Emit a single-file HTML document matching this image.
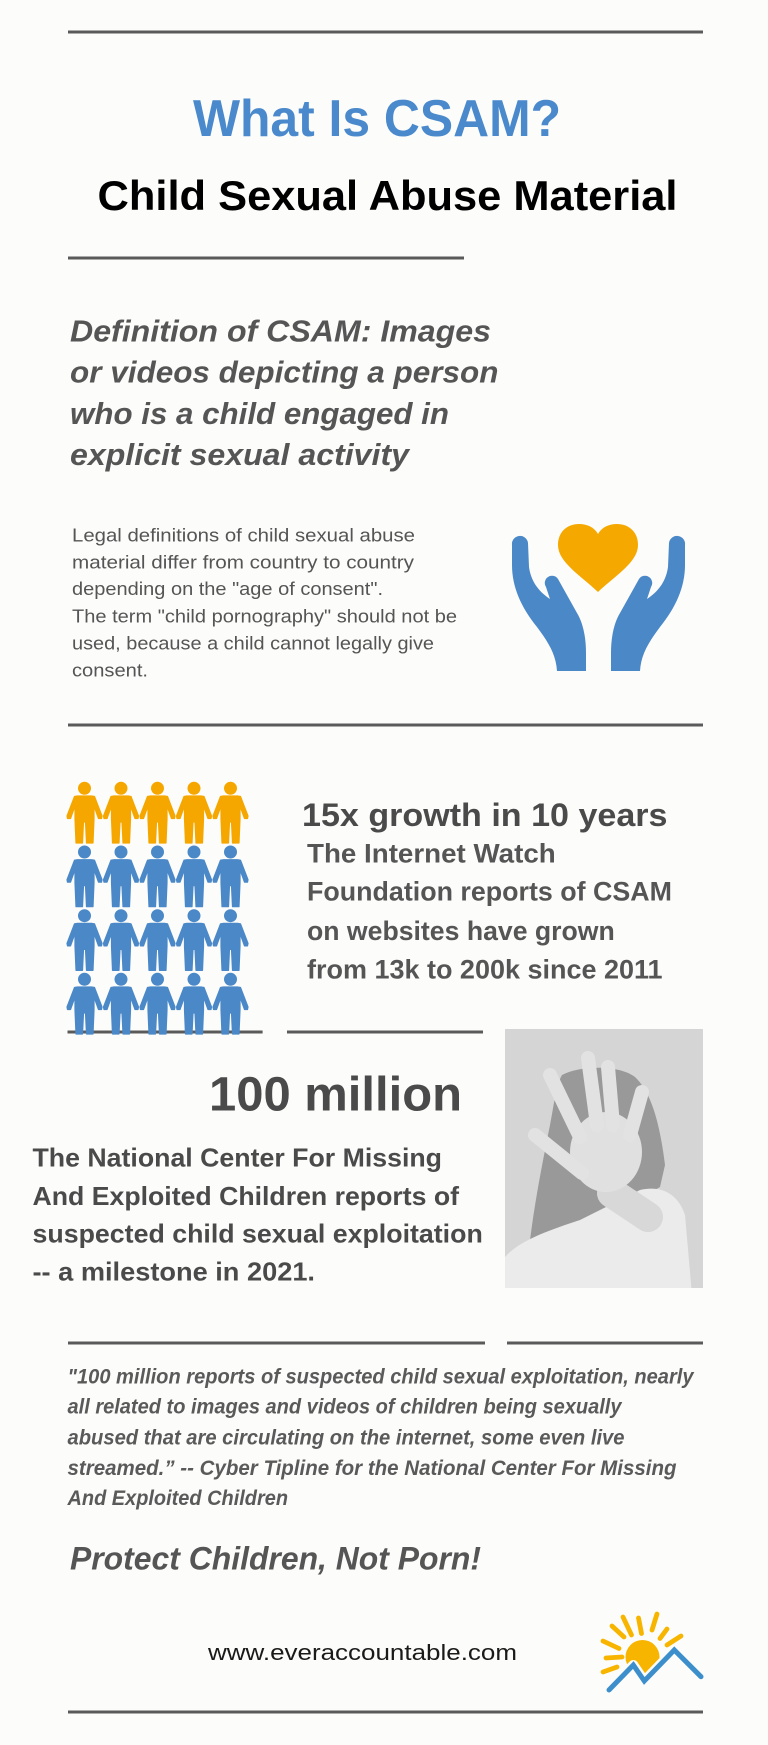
<!DOCTYPE html>
<html>
<head>
<meta charset="utf-8">
<style>
  html,body{margin:0;padding:0;background:#fcfcfa;}
  svg{display:block;}
  text{font-family:"Liberation Sans", Arial, sans-serif;}
</style>
</head>
<body>
<svg width="768" height="1745" viewBox="0 0 768 1745" xmlns="http://www.w3.org/2000/svg">
  <rect x="0" y="0" width="768" height="1745" fill="#fcfcfa"/>

  <!-- divider lines -->
  <g stroke="#5a5a5a" stroke-width="3">
    <line x1="68" y1="32" x2="703" y2="32"/>
    <line x1="68" y1="258" x2="464" y2="258"/>
    <line x1="68" y1="725" x2="703" y2="725"/>
    <line x1="67.5" y1="1032" x2="262.6" y2="1032"/>
    <line x1="287" y1="1032" x2="483" y2="1032"/>
    <line x1="68" y1="1343" x2="485" y2="1343"/>
    <line x1="507" y1="1343" x2="703" y2="1343"/>
    <line x1="68" y1="1712" x2="703" y2="1712"/>
  </g>

  <!-- Titles -->
  <text x="193" y="136" font-size="52" font-weight="bold" fill="#4a89cc" textLength="368" lengthAdjust="spacingAndGlyphs">What Is CSAM?</text>
  <text x="97.5" y="210" font-size="42" font-weight="bold" fill="#000" textLength="580" lengthAdjust="spacingAndGlyphs">Child Sexual Abuse Material</text>

  <!-- Definition heading -->
  <g font-size="30.5" font-weight="bold" font-style="italic" fill="#555">
    <text x="70" y="341.7" textLength="421" lengthAdjust="spacingAndGlyphs">Definition of CSAM: Images</text>
    <text x="70" y="382.3" textLength="428.5" lengthAdjust="spacingAndGlyphs">or videos depicting a person</text>
    <text x="70" y="424" textLength="379" lengthAdjust="spacingAndGlyphs">who is a child engaged in</text>
    <text x="70" y="465" textLength="339" lengthAdjust="spacingAndGlyphs">explicit sexual activity</text>
  </g>

  <!-- Body -->
  <g font-size="18.5" fill="#555">
    <text x="72" y="541.7" textLength="343" lengthAdjust="spacingAndGlyphs">Legal definitions of child sexual  abuse</text>
    <text x="72" y="568.3" textLength="342" lengthAdjust="spacingAndGlyphs">material differ from country to country</text>
    <text x="72" y="595" textLength="311" lengthAdjust="spacingAndGlyphs">depending on the "age of consent".</text>
    <text x="72" y="622.7" textLength="385" lengthAdjust="spacingAndGlyphs">The term "child pornography" should not be</text>
    <text x="72" y="649.3" textLength="362" lengthAdjust="spacingAndGlyphs">used, because a child cannot legally give</text>
    <text x="72" y="676.7" textLength="76" lengthAdjust="spacingAndGlyphs">consent.</text>
  </g>

  <!-- Hands + heart icon -->
  <g transform="translate(505,515)">
    <g fill="#4a88c8">
      <path d="M 7,30 A 8,8 0 0 1 23,28 L 24,52 C 26,66 33,76 45,84 L 41,72 A 6.5,6.5 0 0 1 53,64 L 72,98 C 78,108 81,122 81,138 L 81,156 L 52,156 C 51,140 44,128 32,112 C 16,92 7,72 7,50 Z"/>
      <path transform="translate(187,0) scale(-1,1)" d="M 7,30 A 8,8 0 0 1 23,28 L 24,52 C 26,66 33,76 45,84 L 41,72 A 6.5,6.5 0 0 1 53,64 L 72,98 C 78,108 81,122 81,138 L 81,156 L 52,156 C 51,140 44,128 32,112 C 16,92 7,72 7,50 Z"/>
    </g>
    <path fill="#f5a800" d="M 93,19 C 89,12 82,9 74,9 C 62,9 53,17 53,30 C 53,47 75,60 93,77 C 111,60 133,47 133,30 C 133,17 124,9 112,9 C 104,9 97,12 93,19 Z"/>
  </g>

  <!-- People grid -->
  <defs>
    <g id="person">
      <circle cx="0" cy="6.3" r="6"/>
      <polygon stroke-linejoin="round" stroke-width="1.2" points="-7,14 7,14 10,14.5 17.5,34 17,36.5 14,36.5 9.5,24 9.5,37 8.5,61 2,61 1,40 -1,40 -2,61 -8.5,61 -9.5,37 -9.5,24 -14,36.5 -17,36.5 -17.5,34 -10,14.5"/>
    </g>
  </defs>
  <g fill="#f5a700" stroke="#f5a700">
    <use href="#person" transform="translate(84.5,782)"/>
    <use href="#person" transform="translate(121,782)"/>
    <use href="#person" transform="translate(157.5,782)"/>
    <use href="#person" transform="translate(194,782)"/>
    <use href="#person" transform="translate(230.5,782)"/>
  </g>
  <g fill="#4a88c8" stroke="#4a88c8">
    <use href="#person" transform="translate(84.5,845.7)"/>
    <use href="#person" transform="translate(121,845.7)"/>
    <use href="#person" transform="translate(157.5,845.7)"/>
    <use href="#person" transform="translate(194,845.7)"/>
    <use href="#person" transform="translate(230.5,845.7)"/>
    <use href="#person" transform="translate(84.5,909.4)"/>
    <use href="#person" transform="translate(121,909.4)"/>
    <use href="#person" transform="translate(157.5,909.4)"/>
    <use href="#person" transform="translate(194,909.4)"/>
    <use href="#person" transform="translate(230.5,909.4)"/>
    <use href="#person" transform="translate(84.5,973)"/>
    <use href="#person" transform="translate(121,973)"/>
    <use href="#person" transform="translate(157.5,973)"/>
    <use href="#person" transform="translate(194,973)"/>
    <use href="#person" transform="translate(230.5,973)"/>
  </g>

  <!-- 15x growth -->
  <text x="302" y="826" font-size="32" font-weight="bold" fill="#4a4a4a" textLength="365.5" lengthAdjust="spacingAndGlyphs">15x growth in 10 years</text>
  <g font-size="27" font-weight="bold" fill="#555">
    <text x="307" y="862.7" textLength="248.7" lengthAdjust="spacingAndGlyphs">The Internet Watch</text>
    <text x="307" y="900.7" textLength="365" lengthAdjust="spacingAndGlyphs">Foundation reports of CSAM</text>
    <text x="307" y="940" textLength="307.8" lengthAdjust="spacingAndGlyphs">on websites have grown</text>
    <text x="307" y="978.3" textLength="355.5" lengthAdjust="spacingAndGlyphs">from 13k to 200k since 2011</text>
  </g>

  <!-- Photo -->
  <clipPath id="photoclip"><rect x="505" y="1029" width="198" height="259"/></clipPath>
  <g clip-path="url(#photoclip)">
    <g transform="translate(500,1025)">
      <rect x="0" y="0" width="210" height="270" fill="#d5d5d5"/>
      <path fill="#999" d="M 62,50 C 80,40 120,40 135,52 C 152,68 160,100 165,140 L 160,162 L 70,215 L 28,235 C 32,190 42,140 50,100 C 54,80 56,60 62,50 Z"/>
      <path fill="#ebebeb" d="M 5,232 C 20,215 50,205 80,195 L 140,165 C 160,160 178,168 185,190 L 192,270 L 5,270 Z"/>
      <line x1="112" y1="168" x2="148" y2="192" stroke="#d8d8d8" stroke-width="30" stroke-linecap="round"/>
      <ellipse cx="106" cy="127" rx="36" ry="40" fill="#e0e0e0"/>
      <g stroke="#e2e2e2" stroke-width="14" stroke-linecap="round">
        <line x1="80" y1="112" x2="50" y2="50"/>
        <line x1="97" y1="100" x2="88" y2="33"/>
        <line x1="113" y1="100" x2="108" y2="42"/>
        <line x1="130" y1="110" x2="142" y2="67"/>
        <line x1="82" y1="148" x2="35" y2="110"/>
      </g>
    </g>
  </g>

  <!-- 100 million -->
  <text x="209" y="1110.7" font-size="48" font-weight="bold" fill="#4a4a4a" textLength="253" lengthAdjust="spacingAndGlyphs">100 million</text>
  <g font-size="26" font-weight="bold" fill="#4a4a4a">
    <text x="32.5" y="1166.7" textLength="409.5" lengthAdjust="spacingAndGlyphs">The National Center For Missing</text>
    <text x="32.5" y="1205" textLength="426.5" lengthAdjust="spacingAndGlyphs">And Exploited Children reports of</text>
    <text x="32.5" y="1242.3" textLength="450.3" lengthAdjust="spacingAndGlyphs">suspected child sexual exploitation</text>
    <text x="32.5" y="1280.7" textLength="282.5" lengthAdjust="spacingAndGlyphs">-- a milestone in 2021.</text>
  </g>

  <!-- Quote -->
  <g font-size="21" font-weight="bold" font-style="italic" fill="#5a5a5a">
    <text x="67.5" y="1383.3" textLength="626" lengthAdjust="spacingAndGlyphs">"100 million reports of suspected child sexual exploitation, nearly</text>
    <text x="67.5" y="1413.3" textLength="554" lengthAdjust="spacingAndGlyphs">all related to images and videos of children being sexually</text>
    <text x="67.5" y="1444.3" textLength="557" lengthAdjust="spacingAndGlyphs">abused that are circulating on the internet, some even live</text>
    <text x="67.5" y="1475" textLength="609" lengthAdjust="spacingAndGlyphs">streamed.”  -- Cyber Tipline for the National Center For Missing</text>
    <text x="67.5" y="1505" textLength="220.5" lengthAdjust="spacingAndGlyphs">And Exploited Children</text>
  </g>

  <text x="70" y="1569.3" font-size="32" font-weight="bold" font-style="italic" fill="#555" textLength="411" lengthAdjust="spacingAndGlyphs">Protect Children, Not Porn!</text>

  <text x="208" y="1660" font-size="22" fill="#1a1a1a" textLength="309" lengthAdjust="spacingAndGlyphs">www.everaccountable.com</text>

  <!-- Sun logo -->
  <g transform="translate(595,1605)">
    <g stroke="#f7b500" stroke-width="4.8" stroke-linecap="round">
      <line x1="8" y1="67" x2="22" y2="62"/>
      <line x1="11" y1="53" x2="27" y2="52"/>
      <line x1="8" y1="36" x2="24" y2="43.5"/>
      <line x1="17" y1="21" x2="29" y2="32"/>
      <line x1="28" y1="12" x2="36.5" y2="30"/>
      <line x1="43.5" y1="13" x2="46.5" y2="28.5"/>
      <line x1="62" y1="9" x2="57" y2="25"/>
      <line x1="72" y1="24" x2="65" y2="33.5"/>
      <line x1="86" y1="31" x2="72" y2="40"/>
    </g>
    <circle cx="47.5" cy="52" r="17" fill="#f7b500"/>
    <polygon fill="#fcfcfa" points="14,85 38.3,60 49.3,76 79.3,45 106,71.7 110,100 10,100"/>
    <polyline fill="none" stroke="#fcfcfa" stroke-width="10" stroke-linejoin="round" points="14,85 38.3,60 49.3,76 79.3,45 106,71.7"/>
    <polyline fill="none" stroke="#3d8fcc" stroke-width="5" stroke-linecap="round" stroke-linejoin="miter" points="14,85 38.3,60 49.3,76 79.3,45 106,71.7"/>
  </g>
</svg>
</body>
</html>
